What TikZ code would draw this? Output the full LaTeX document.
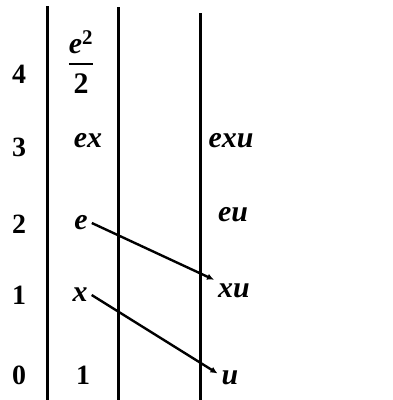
\documentclass[tikz,border=0pt]{standalone}
\usepackage{amsmath}
\usepackage{fontspec}
\setmainfont{Liberation Serif}
\usepackage{tikz}
\usetikzlibrary{arrows.meta}

\begin{document}
\begin{tikzpicture}[x=1bp,y=-1bp,
    term/.style={font=\fontsize{30}{32}\selectfont\bfseries\itshape, inner sep=4bp},
    degree/.style={font=\fontsize{28}{30}\selectfont\bfseries, inner sep=4bp},
    timesu/.style={line width=2.4bp, -{Latex[length=7bp,width=6.5bp]}}]
    \useasboundingbox (0,0) rectangle (393,400);
    % the three columns
    \draw[line width=3.2bp] (47.5,6) -- (47.5,400);
    \draw[line width=3bp] (118.5,7) -- (118.5,400);
    \draw[line width=3bp] (200,13) -- (200,400);
    % degrees
    \node[degree] (d4) at (19,74) {4};
    \node[degree] (d3) at (19,147) {3};
    \node[degree] (d2) at (19,224) {2};
    \node[degree] (d1) at (19,295) {1};
    \node[degree] (d0) at (19,375) {0};
    % first column
    \node[term] (ee) at (81,62) {$\genfrac{}{}{2.8bp}{0}{\text{\itshape e}^{\text{\upshape 2}}}{\text{\upshape 2}}$};
    \node[term] (ex) at (88,141) {ex};
    \node[term] (e) at (81,223) {e};
    \node[term] (x) at (80,295) {x};
    \node[degree] (one) at (83,375) {1};
    % third column
    \node[term] (exu) at (231,141) {exu};
    \node[term] (eu) at (233,215) {eu};
    \node[term] (xu) at (234,291) {xu};
    \node[term] (u) at (230,378) {u};
    % multiplication by u
    \draw[timesu] (e.east) -- (xu.north west);
    \draw[timesu] (x.east) -- (u.160);
\end{tikzpicture}
\end{document}
